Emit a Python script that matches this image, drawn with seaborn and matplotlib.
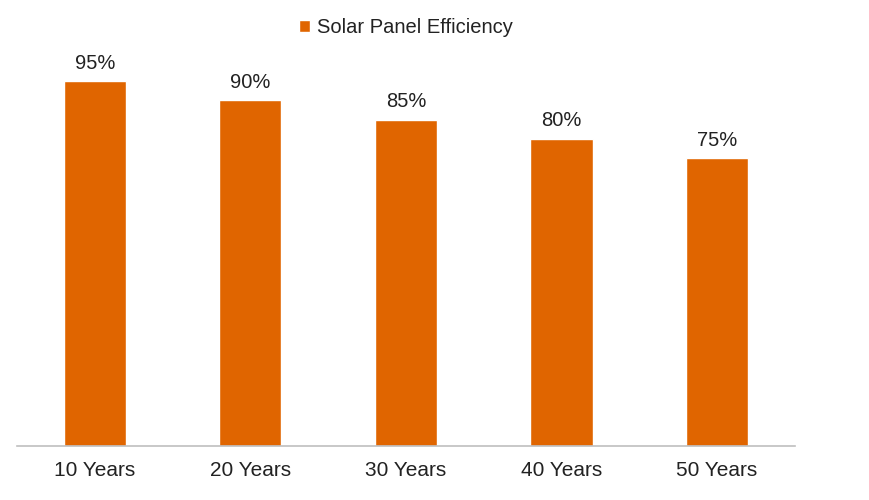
import pandas as pd
import matplotlib
matplotlib.use('Agg')
import matplotlib.pyplot as plt
import seaborn as sns

# 数据
periods = ['10 Years', '20 Years', '30 Years', '40 Years', '50 Years']
efficiency = [95, 90, 85, 80, 75]
series_name = 'Solar Panel Efficiency'

bar_color = '#E06500'

sns.set_style('white')
plt.rcParams['font.family'] = ['Liberation Sans', 'DejaVu Sans']

df = pd.DataFrame({
    'Period': periods,
    'Efficiency': efficiency,
    'Series': [series_name] * len(periods),
})

fig = plt.figure(figsize=(8.7, 5.0), dpi=100)
ax = fig.add_axes([0.0195, 0.108, 0.894, 0.768])

sns.barplot(data=df, x='Period', y='Efficiency', hue='Series',
            palette=[bar_color], width=0.4, dodge=False, ax=ax,
            saturation=1)

ax.set_ylim(0, 100)
ax.set_xlim(-0.5, len(periods) - 0.5)
ax.set_xlabel('')
ax.set_ylabel('')
ax.set_yticks([])

# 数值标签
ax.bar_label(ax.containers[0], labels=[f'{v}%' for v in efficiency],
             padding=6, fontsize=14.5, color='#222222')

ax.tick_params(axis='x', length=0, pad=11, labelsize=15, labelcolor='#222222')

for side in ['left', 'right', 'top']:
    ax.spines[side].set_visible(False)
ax.spines['bottom'].set_color('#BFBFBF')
ax.spines['bottom'].set_linewidth(1.2)

leg = ax.legend(loc='center', bbox_to_anchor=(0.5, 1.09), frameon=False,
                fontsize=14.5, handlelength=0.55, handleheight=0.55,
                handletextpad=0.35, labelcolor='#222222')

fig.savefig('out.png', dpi=100)
plt.close(fig)
